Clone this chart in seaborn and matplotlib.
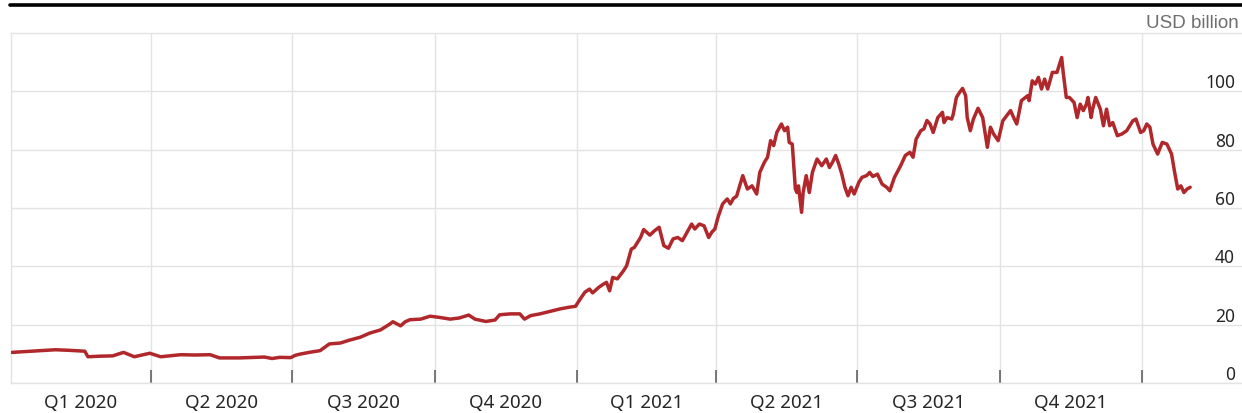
import numpy as np
import pandas as pd
import matplotlib
matplotlib.use("Agg")
import matplotlib.pyplot as plt
import seaborn as sns
from matplotlib.lines import Line2D

# ---------------- data ----------------
start_date = "2020-01-01"
day_offsets = [
    1, 13, 29, 38, 48, 50, 58, 66, 73, 80, 90, 97, 110, 119, 129, 135, 148, 158, 164, 169,
    174, 181, 184, 187, 193, 200, 206, 213, 219, 226, 232, 239, 245, 247, 252, 255, 258, 265,
    271, 277, 284, 290, 296, 300, 307, 313, 316, 323, 329, 332, 336, 342, 349, 355, 361, 365,
    368, 371, 374, 376, 380, 383, 385, 387, 389, 392, 396, 398, 401, 403, 407, 409, 413, 416,
    419, 422, 425, 428, 431, 434, 436, 440, 442, 445, 448, 451, 453, 455, 457, 460, 463, 465,
    467, 469, 473, 476, 479, 482, 484, 487, 489, 491, 493, 495, 498, 500, 502, 503, 505, 507,
    508, 509, 511, 512, 514, 516, 518, 521, 524, 527, 529, 531, 533, 535, 537, 539, 541, 543,
    545, 548, 550, 553, 555, 557, 560, 563, 566, 568, 571, 575, 578, 581, 583, 585, 588, 590,
    592, 594, 596, 599, 602, 603, 605, 608, 609, 611, 613, 615, 617, 618, 620, 622, 625, 628,
    631, 633, 635, 638, 641, 646, 648, 650, 653, 657, 658, 660, 662, 664, 666, 668, 670, 673,
    676, 679, 680, 682, 684, 687, 689, 691, 693, 695, 696, 698, 699, 701, 704, 706, 708, 710,
    712, 715, 718, 721, 725, 727, 730, 732, 734, 736, 738, 741, 744, 747, 750, 752, 754, 756,
    758, 760, 762,
]
values = [
    10.5, 10.9, 11.4, 11.2, 10.9, 9.0, 9.2, 9.3, 10.5, 9.0, 10.2, 9.0, 9.7, 9.6, 9.7, 8.6, 8.6, 8.8, 8.9, 8.4,
    8.8, 8.7, 9.5, 9.9, 10.5, 11.1, 13.4, 13.7, 14.7, 15.7, 17.1, 18.2, 20.2, 21.0, 19.6, 21.0, 21.7, 21.9,
    22.9, 22.5, 21.9, 22.3, 23.3, 21.9, 21.1, 21.6, 23.4, 23.7, 23.7, 21.9, 23.1, 23.7, 24.6, 25.4, 26.0, 26.3,
    28.8, 31.1, 32.2, 30.9, 32.8, 33.9, 34.5, 31.6, 36.2, 35.7, 38.5, 40.2, 45.9, 46.5, 49.9, 52.6, 50.7, 52.2,
    53.4, 47.1, 46.2, 49.4, 49.9, 48.8, 50.7, 54.5, 52.8, 54.5, 53.9, 49.9, 51.7, 52.8, 56.8, 61.4, 63.1, 61.4,
    63.3, 64.0, 71.1, 66.5, 67.6, 64.8, 72.2, 75.7, 77.4, 83.1, 81.4, 85.9, 88.8, 86.5, 87.7, 82.5, 81.9, 66.5,
    65.3, 67.6, 58.5, 65.3, 71.1, 65.3, 72.2, 76.8, 74.5, 76.8, 73.9, 75.7, 78.0, 75.1, 71.6, 67.1, 64.2, 67.1,
    64.8, 68.8, 70.5, 71.1, 72.2, 70.8, 71.6, 68.2, 67.1, 65.9, 70.5, 74.5, 78.0, 79.1, 77.4, 83.6, 86.5, 87.1,
    90.0, 88.8, 85.9, 91.0, 92.8, 89.3, 91.0, 90.5, 92.2, 97.9, 99.6, 101.0, 98.5, 91.0, 86.5, 90.5, 94.2, 91.0,
    80.8, 87.7, 85.4, 83.1, 89.9, 93.4, 91.0, 88.8, 96.8, 98.5, 96.8, 103.6, 102.5, 104.8, 100.8, 104.2, 100.8, 106.5,
    106.5, 111.6, 106.5, 97.9, 97.9, 96.2, 91.0, 95.6, 93.4, 95.6, 97.9, 91.0, 93.9, 97.9, 93.9, 88.2, 93.9, 88.2,
    89.3, 84.8, 85.4, 86.5, 89.9, 90.5, 85.9, 86.5, 88.8, 87.7, 81.9, 78.5, 82.5, 81.9, 78.5, 72.2, 66.5, 67.6,
    65.3, 66.5, 67.1,
]
quarter_starts = ["2020-04-01", "2020-07-01", "2020-10-01", "2021-01-01",
                  "2021-04-01", "2021-07-01", "2021-10-01", "2022-01-01"]
quarter_labels = ["Q1 2020", "Q2 2020", "Q3 2020", "Q4 2020",
                  "Q1 2021", "Q2 2021", "Q3 2021", "Q4 2021"]
y_ticks = [0, 20, 40, 60, 80, 100]
unit_label = "USD billion"

# ---------------- styling ----------------
sns.set_theme(style="white")
plt.rcParams["font.family"] = ["Noto Sans", "DejaVu Sans"]

line_color = "#b0282b"
grid_color = "#e3e3e3"
text_color = "#262626"

dates = pd.Timestamp(start_date) + pd.to_timedelta(day_offsets, unit="D")
df = pd.DataFrame({"date": dates, "value": values})

W, H = 1242, 414
fig = plt.figure(figsize=(W / 100, H / 100), dpi=100)
ax = fig.add_axes([10.5 / W, 30 / H, 1 - 10.5 / W, 350 / H])

sns.lineplot(data=df, x="date", y="value", ax=ax, color=line_color,
             linewidth=2.5, zorder=3)

x0 = pd.Timestamp(start_date)
ax.set_xlim(x0, x0 + pd.Timedelta(days=795.5))
ax.set_ylim(0, 120)
ax.set_xlabel("")
ax.set_ylabel("")

# vertical gridlines + ticks at quarter boundaries
qs = pd.to_datetime(quarter_starts)
ax.set_xticks(qs)
ax.set_xticklabels([""] * len(qs))
all_bounds = [x0] + list(qs)
mids = [all_bounds[i] + (all_bounds[i + 1] - all_bounds[i]) / 2 for i in range(len(quarter_labels))]
ax.set_xticks(mids, minor=True)
ax.set_xticklabels(quarter_labels, minor=True)
ax.tick_params(axis="x", which="major", direction="in", length=9.5, width=1.1,
               color="#555555", bottom=True, top=False)
ax.tick_params(axis="x", which="minor", length=0, pad=7, labelsize=13.5,
               labelcolor=text_color)
ax.xaxis.grid(True, which="major", color=grid_color, linewidth=1.0)

# horizontal gridlines, labels inside on the right, above gridline
ax.set_yticks(y_ticks)
ax.set_yticklabels([str(v) for v in y_ticks])
ax.yaxis.tick_right()
ax.tick_params(axis="y", length=0, pad=-5, labelsize=12.5, labelcolor=text_color)
for lab in ax.get_yticklabels():
    lab.set_horizontalalignment("right")
    lab.set_verticalalignment("bottom")
ax.yaxis.grid(True, color=grid_color, linewidth=1.0)

for side in ["left", "top", "bottom"]:
    ax.spines[side].set_visible(True)
    ax.spines[side].set_color(grid_color)
    ax.spines[side].set_linewidth(1.0)
ax.spines["right"].set_visible(False)

# header rule and unit label
fig.add_artist(Line2D([10 / W, 1.0], [1 - 5.5 / H, 1 - 5.5 / H],
                      transform=fig.transFigure, color="black", linewidth=2.6))
fig.text(1239 / W, 1 - 24 / H, unit_label, ha="right", va="center",
         fontsize=13.5, color="#6e6e6e", family=["Liberation Sans", "DejaVu Sans"])

fig.savefig("out.png", dpi=100, facecolor="white")
